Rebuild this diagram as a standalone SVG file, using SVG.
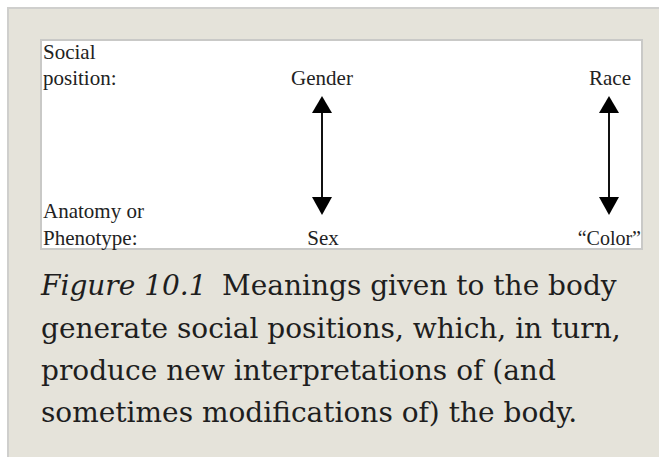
<svg xmlns="http://www.w3.org/2000/svg" width="659" height="457" viewBox="0 0 659 457">
<style>
.lbl{font-family:"Liberation Serif","DejaVu Serif",serif;font-size:21px;fill:#222}
.cap{font-family:"DejaVu Serif",serif;font-size:28px;fill:#1e1e1e}
.arr{stroke:#111;stroke-width:2;fill:none}
.head{fill:#000}
</style>
<rect x="0" y="0" width="659" height="457" fill="#ffffff"/>
<rect id="panel" x="8" y="8" width="700" height="500" fill="#e5e3da" stroke="#cfcfcd" stroke-width="2"/>
<rect id="figure-box" x="41" y="40" width="601" height="209" fill="#ffffff" stroke="#c9c9c7" stroke-width="2"/>
<g id="row-labels">
<text class="lbl" x="43" y="59">Social</text>
<text class="lbl" x="43" y="85">position:</text>
<text class="lbl" x="43" y="218">Anatomy or</text>
<text class="lbl" x="43" y="245">Phenotype:</text>
</g>
<g id="gender"><text class="lbl" x="322" y="85" text-anchor="middle">Gender</text></g>
<g id="sex"><text class="lbl" x="323" y="245" text-anchor="middle">Sex</text></g>
<g id="race"><text class="lbl" x="610" y="85" text-anchor="middle">Race</text></g>
<g id="color"><text class="lbl" x="641" y="245" text-anchor="end" style="font-size:20px">“Color”</text></g>
<g id="connectors">
<line class="arr" x1="322" y1="110" x2="322" y2="200"/>
<polygon class="head" points="322,96 312,113 332,113"/>
<polygon class="head" points="322,215 312,197 332,197"/>
<line class="arr" x1="609" y1="110" x2="609" y2="200"/>
<polygon class="head" points="609,96 599,113 619,113"/>
<polygon class="head" points="609,215 599,197 619,197"/>
</g>
<g id="caption">
<text class="cap" x="41" y="295"><tspan font-style="italic">Figure 10.1</tspan><tspan x="222">Meanings given to the body</tspan></text>
<text class="cap" x="41" y="338">generate social positions, which, in turn,</text>
<text class="cap" x="41" y="380">produce new interpretations of (and</text>
<text class="cap" x="41" y="422">sometimes modifications of) the body.</text>
</g>
</svg>
